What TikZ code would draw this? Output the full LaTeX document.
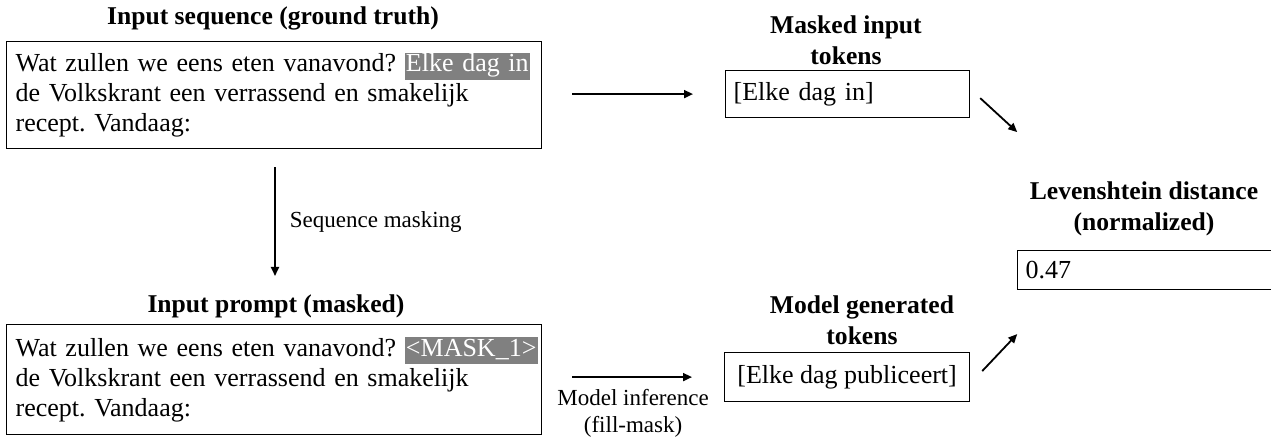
\documentclass[tikz,border=0pt]{standalone}
\usepackage{fontspec}
\setmainfont{Liberation Serif}
\usetikzlibrary{positioning,arrows.meta}
\frenchspacing
\definecolor{hlgray}{HTML}{808080}
\newcommand{\hlword}[1]{{\setlength{\fboxsep}{0.6pt}\colorbox{hlgray}{\rule[-3.4pt]{0pt}{12.4pt}\textcolor{white}{#1}}}}
\tikzset{
  title/.style={font=\fontsize{12.8}{15.5}\selectfont\bfseries, align=center, inner sep=0pt},
  textbox/.style={draw, line width=0.6pt, anchor=north west, inner xsep=4.5pt, inner ysep=0pt,
    align=left, font=\fontsize{13}{15}\selectfont},
  label/.style={font=\fontsize{11.5}{13.5}\selectfont, align=center, inner sep=0pt},
  flow/.style={-{Triangle[length=4.5pt,width=4pt]}, line width=0.9pt}
}
\begin{document}
\begin{tikzpicture}[x=0.5pt,y=-0.5pt]
	\useasboundingbox (0,0) rectangle (1271,437);
	% Ground truth
	\node[title] (seqtitle) at (273,18) {Input sequence (ground truth)};
	\node[textbox, text width=258.5pt, minimum height=53.5pt] (seqbox) at (6,41)
		{\mbox{Wat zullen we eens eten vanavond? \hlword{Elke dag in}}\\de Volkskrant een verrassend en smakelijk\\recept. Vandaag:};
	% Masked prompt
	\node[title] (prompttitle) at (276,306) {Input prompt (masked)};
	\node[textbox, text width=258.5pt, minimum height=55pt] (promptbox) at (6,324)
		{\mbox{Wat zullen we eens eten vanavond? \hlword{\textless MASK\_1\textgreater}}\\de Volkskrant een verrassend en smakelijk\\recept. Vandaag:};
	% Token boxes
	\node[title] (maskedtitle) at (846,40) {Masked input\\tokens};
	\node[textbox, inner xsep=4pt, text width=114pt, minimum height=23.5pt] (maskedbox) at (725,70) {[Elke dag in]};
	\node[title] (gentitle) at (862,320) {Model generated\\tokens};
	\node[textbox, inner xsep=0pt, minimum width=122.5pt, minimum height=24.5pt, align=center] (genbox) at (724,352) {[Elke dag publiceert]};
	% Distance
	\node[title] (levtitle) at (1144,209) {Levenshtein distance\\(normalized)};
	\node[textbox, inner xsep=4pt, text width=134pt, minimum height=19.5pt] (levbox) at (1017,250) {0.47};
	% Arrows
	\draw[flow, shorten <=9pt, shorten >=9pt] (seqbox.south -| 275,0) -- (prompttitle.north -| 275,0)
		node[label, midway, right=7pt] (masklabel) {Sequence masking};
	\draw[flow, shorten <=15pt, shorten >=16pt] (seqbox.east |- maskedbox.west) -- (maskedbox.west);
	\draw[flow, shorten <=15pt, shorten >=16pt] (promptbox.east |- genbox.west) -- (genbox.west)
		node[label, midway, below=5.5pt] (inflabel) {Model inference\\(fill-mask)};
	\draw[flow] ([xshift=5pt,yshift=-2pt]maskedbox.east) -- ++(37,34);
	\draw[flow] ([xshift=6pt,yshift=3pt]genbox.east) -- ++(35,-37);
\end{tikzpicture}
\end{document}
